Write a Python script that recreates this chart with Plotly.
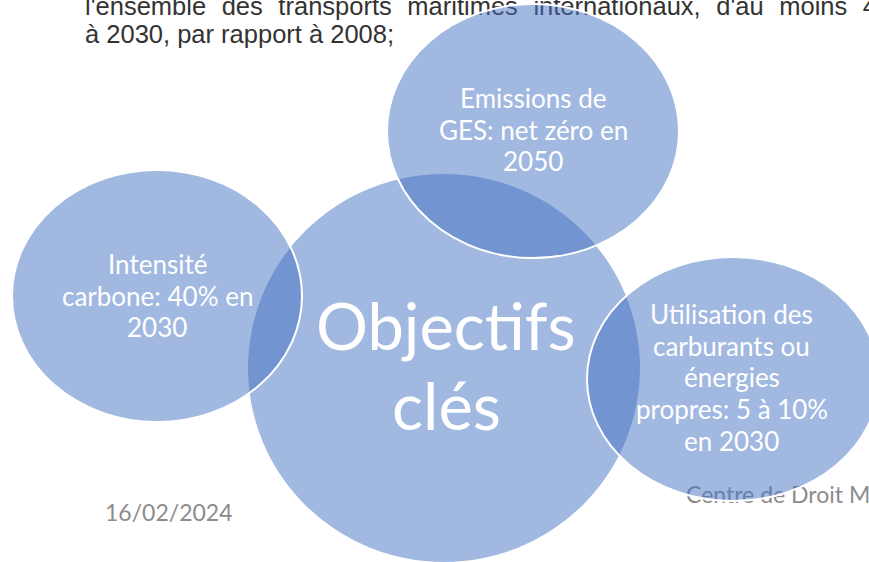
import plotly.graph_objects as go

# Text content
paragraph_lines = [
    "l'ensemble des transports maritimes internationaux, d'au moins 40 %",
    "à 2030, par rapport à 2008;",
]
center_label = "Objectifs<br>clés"
bubble_labels = [
    "Emissions de<br>GES: net zéro en<br>2050",
    "Intensité<br>carbone: 40% en<br>2030",
    "Utilisation des<br>carburants ou<br>énergies<br>propres: 5 à 10%<br>en 2030",
]
footer_date = "16/02/2024"
footer_org = "Centre de Droit Maritime"

W, H = 869, 562
FILL = "rgba(68,114,196,0.5)"

# layout geometry (pixel space)
center_geo = dict(cx=444, cy=368, rx=196, ry=194)
bubble_geo = [
    dict(cx=533, cy=131, rx=146, ry=127),
    dict(cx=157, cy=296, rx=145, ry=126),
    dict(cx=733, cy=379, rx=146, ry=122),
]
# first-line center and line spacing of each label block
label_pos = [(533, 98), (157, 264), (731.5, 314)]
LABEL_STEP = 31.7
CENTER_POS = (446, 324.5)
CENTER_STEP = 80

# justified first paragraph line: widen word gaps
para_display = [paragraph_lines[0].replace(" ", " \u2006\u2006"), paragraph_lines[1]]

fig = go.Figure()

# background texts (below circles)
fig.add_trace(go.Scatter(
    x=[85, 85], y=[8.5, 37], mode="text", text=para_display,
    textposition="middle right", hoverinfo="skip",
    textfont=dict(family="Liberation Sans, Arial", size=25.5, color="#333333"),
    showlegend=False,
))
fig.add_trace(go.Scatter(
    x=[105, 686], y=[515, 497], mode="text", text=[footer_date, footer_org],
    textposition="middle right", hoverinfo="skip",
    textfont=dict(family="Lato", size=23, color="#8c8c8c"),
    showlegend=False,
))

shapes = []
g = center_geo
shapes.append(dict(type="circle", xref="x", yref="y",
                   x0=g["cx"] - g["rx"], x1=g["cx"] + g["rx"],
                   y0=g["cy"] - g["ry"], y1=g["cy"] + g["ry"],
                   fillcolor=FILL, line=dict(width=0), layer="above"))
for g in bubble_geo:
    shapes.append(dict(type="circle", xref="x", yref="y",
                       x0=g["cx"] - g["rx"], x1=g["cx"] + g["rx"],
                       y0=g["cy"] - g["ry"], y1=g["cy"] + g["ry"],
                       fillcolor=FILL, line=dict(width=2, color="white"),
                       layer="above"))

annotations = []
for i, line in enumerate(center_label.split("<br>")):
    annotations.append(dict(x=CENTER_POS[0], y=CENTER_POS[1] + i * CENTER_STEP,
                            xref="x", yref="y", text=line, showarrow=False,
                            font=dict(family="Lato", size=65, color="white")))
for (x, y), t in zip(label_pos, bubble_labels):
    for i, line in enumerate(t.split("<br>")):
        annotations.append(dict(x=x, y=y + i * LABEL_STEP, xref="x", yref="y",
                                text=line, showarrow=False,
                                font=dict(family="Lato", size=26, color="white")))

fig.update_layout(
    width=W, height=H,
    margin=dict(l=0, r=0, t=0, b=0),
    paper_bgcolor="white", plot_bgcolor="white",
    xaxis=dict(range=[0, W], visible=False, fixedrange=True),
    yaxis=dict(range=[H, 0], visible=False, fixedrange=True),
    shapes=shapes, annotations=annotations,
    showlegend=False,
)

fig.write_html(
    "out.html",
    config={"displayModeBar": False},
    post_script="document.body.style.margin='0';document.body.style.overflow='hidden';",
)
